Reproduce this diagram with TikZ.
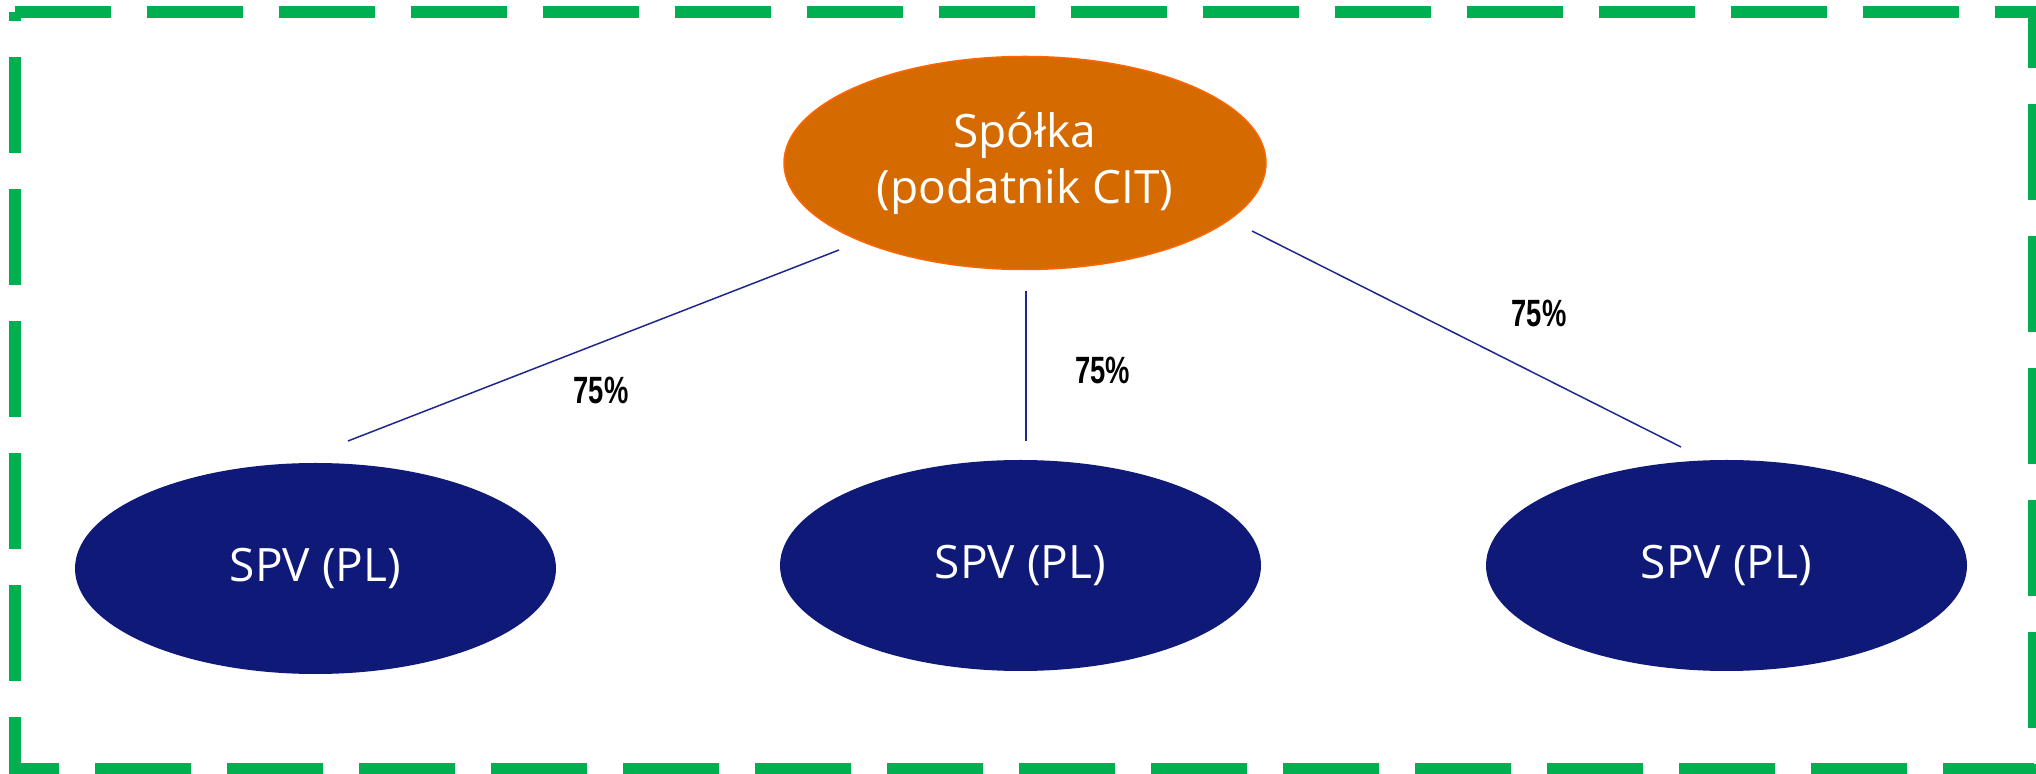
\documentclass[tikz,border=0pt]{standalone}
\usepackage{fontspec}
\usetikzlibrary{shapes.geometric}
\newfontfamily\ellfont{Open Sans}
\newfontfamily\pctfont[FakeStretch=0.72]{Liberation Sans}
\definecolor{spolka}{RGB}{212,106,0}
\definecolor{spolkaedge}{RGB}{255,102,0}
\definecolor{spv}{RGB}{15,25,120}
\definecolor{udzial}{RGB}{30,40,140}
\definecolor{ramka}{RGB}{0,176,80}
\begin{document}
\begin{tikzpicture}[x=0.5pt,y=-0.5pt,
  ell/.style={ellipse, inner sep=0pt, text=white, align=center, font=\ellfont\fontsize{23}{28}\selectfont},
  spvbox/.style={ell, fill=spv, minimum width=240.5pt, minimum height=105.5pt},
  pct/.style={anchor=base, font=\pctfont\bfseries\fontsize{19}{22}\selectfont},
  link/.style={draw=udzial, line width=0.75pt}]
\useasboundingbox (0,0) rectangle (2036,774);
\draw[ramka, line width=6pt, dash pattern=on 48pt off 18pt] (14.5,12) -- (2034,12) -- (2034,769) -- (14.5,769) -- cycle;

\node(Spolka)[ell, fill=spolka, draw=spolkaedge, line width=0.75pt, minimum width=241pt, minimum height=106.5pt] at (1025,163) {Spółka\\(podatnik CIT)};

\node(SPV1)[spvbox] at (315.5,568.5) {SPV (PL)};
\node(SPV2)[spvbox] at (1020.5,565.5) {SPV (PL)};
\node(SPV3)[spvbox] at (1726.5,565.5) {SPV (PL)};

\coordinate(L1a) at (839,250);
\coordinate(L1b) at (348,441);
\coordinate(L2a) at (1026,291);
\coordinate(L2b) at (1026,441);
\coordinate(L3a) at (1252,231);
\coordinate(L3b) at (1681,447);

\draw[link] (L1a) -- (L1b);
\draw[link] (L2a) -- (L2b);
\draw[link] (L3a) -- (L3b);

\node(P1)[pct] at (601,404) {75\%};
\node(P2)[pct] at (1102.5,384) {75\%};
\node(P3)[pct] at (1539,327) {75\%};
\end{tikzpicture}
\end{document}
